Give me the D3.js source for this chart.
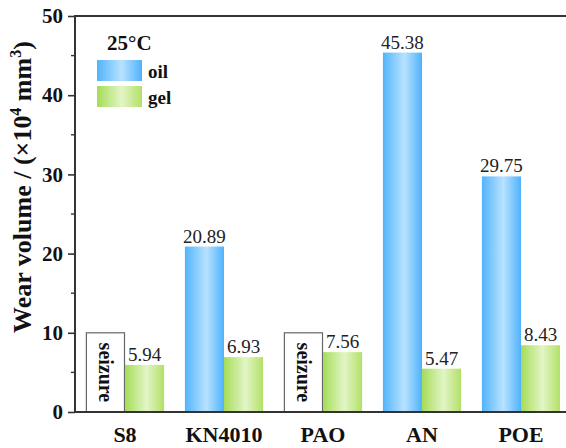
<!DOCTYPE html>
<html><head><meta charset="utf-8">
<script src="https://cdn.jsdelivr.net/npm/d3@7"></script>
<style>body{margin:0;background:#fff}svg{display:block}text{font-family:"Liberation Serif","Times New Roman",serif}</style>
</head><body><svg id="c" width="566" height="448"></svg>
<script>
const categories = ["S8","KN4010","PAO","AN","POE"];
const oilValues = [null, 20.89, null, 45.38, 29.75];
const gelValues = [5.94, 6.93, 7.56, 5.47, 8.43];
const seizureValue = 10;
const yTicks = [0,10,20,30,40,50];
const yMinorTicks = [5,15,25,35,45];

const svg = d3.select("#c");
const W = 566, H = 448;
const x = d3.scaleBand().domain(categories).range([75.5, 570.5]).paddingInner(0.21).paddingOuter(0.105);
const y = d3.scaleLinear().domain([0,50]).range([412,16]);

const defs = svg.append("defs");
function grad(id, stops){
  const g = defs.append("linearGradient").attr("id",id).attr("x1","0%").attr("x2","100%").attr("y1","0%").attr("y2","0%");
  stops.forEach(s=>g.append("stop").attr("offset",s[0]).attr("stop-color",s[1]));
}
grad("gOil",[["0%","#52b4fb"],["55%","#b8e2ff"],["100%","#4fb2fc"]]);
grad("gGel",[["0%","#a6dc58"],["55%","#e2f5c6"],["100%","#b2e068"]]);

const bw = x.bandwidth()/2;

categories.forEach((c,i)=>{
  const x0 = x(c);
  if(oilValues[i]==null){
    svg.append("rect").attr("x",x0+0.5).attr("y",y(seizureValue)).attr("width",bw-1).attr("height",y(0)-y(seizureValue))
      .attr("fill","#fff").attr("stroke","#666").attr("stroke-width",1.2);
    const cx = x0+bw/2, cy = (y(seizureValue)+y(0))/2;
    svg.append("text").attr("transform",`translate(${cx},${cy}) rotate(90)`).attr("text-anchor","middle").attr("dy","0.3em")
      .attr("font-size",20).attr("font-weight","bold").attr("fill","#111").text("seizure");
  } else {
    svg.append("rect").attr("x",x0).attr("y",y(oilValues[i])).attr("width",bw).attr("height",y(0)-y(oilValues[i])).attr("fill","url(#gOil)");
    svg.append("text").attr("x",x0+bw/2).attr("y",y(oilValues[i])-4).attr("text-anchor","middle").attr("font-size",19).attr("fill","#222").text(oilValues[i].toFixed(2));
  }
  svg.append("rect").attr("x",x0+bw).attr("y",y(gelValues[i])).attr("width",bw).attr("height",y(0)-y(gelValues[i])).attr("fill","url(#gGel)");
  svg.append("text").attr("x",x0+bw+bw/2).attr("y",y(gelValues[i])-4).attr("text-anchor","middle").attr("font-size",19).attr("fill","#222").text(gelValues[i].toFixed(2));
});

const yAxis = svg.append("g").attr("transform","translate(75,0)")
  .call(d3.axisLeft(y).tickValues(yTicks).tickSize(7).tickPadding(5).tickFormat(d3.format("d")));
yAxis.select(".domain").remove();
yAxis.selectAll("line").attr("stroke","#333").attr("stroke-width",1.6);
yAxis.selectAll("text").attr("font-size",21).attr("font-weight","bold").attr("fill","#111");
svg.append("g").selectAll("line").data(yMinorTicks).join("line")
  .attr("x1",71).attr("x2",75).attr("y1",d=>y(d)).attr("y2",d=>y(d)).attr("stroke","#333").attr("stroke-width",1.4);

svg.append("line").attr("x1",75).attr("x2",75).attr("y1",15).attr("y2",413).attr("stroke","#333").attr("stroke-width",2);
svg.append("line").attr("x1",74).attr("x2",W).attr("y1",412).attr("y2",412).attr("stroke","#333").attr("stroke-width",2);
svg.append("line").attr("x1",74).attr("x2",W).attr("y1",16).attr("y2",16).attr("stroke","#333").attr("stroke-width",2);

svg.append("g").selectAll("text").data(categories).join("text")
  .attr("x",d=>x(d)+x.bandwidth()/2).attr("y",442).attr("text-anchor","middle")
  .attr("font-size",22).attr("font-weight","bold").attr("fill","#111").text(d=>d);

const yt = svg.append("text").attr("transform","translate(31,187) rotate(-90)").attr("text-anchor","middle")
  .attr("font-size",26).attr("font-weight","bold").attr("fill","#111");
yt.append("tspan").text("Wear volume / (×10");
yt.append("tspan").attr("font-size",16).attr("dy",-10).text("4");
yt.append("tspan").attr("dy",10).text(" mm");
yt.append("tspan").attr("font-size",16).attr("dy",-10).text("3");
yt.append("tspan").attr("dy",10).text(")");

svg.append("text").attr("x",107).attr("y",50).attr("font-size",21).attr("font-weight","bold").attr("fill","#111").text("25°C");
const legend = [["oil","url(#gOil)"],["gel","url(#gGel)"]];
legend.forEach((l,i)=>{
  svg.append("rect").attr("x",97).attr("y",60+i*26).attr("width",45).attr("height",21).attr("fill",l[1]);
  svg.append("text").attr("x",148).attr("y",78+i*26).attr("font-size",19).attr("font-weight","bold").attr("fill","#111").text(l[0]);
});
</script></body></html>
